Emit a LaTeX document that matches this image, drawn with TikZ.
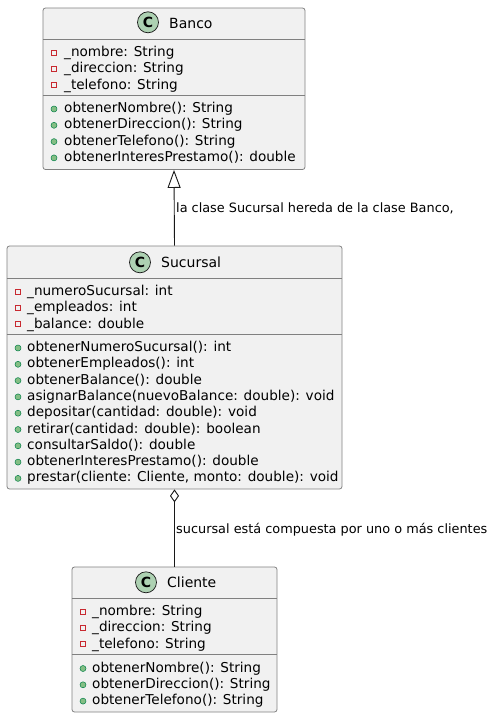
\documentclass[tikz,border=0pt]{standalone}
\usepackage{fontspec}
\setmainfont{DejaVu Sans}
\usepackage{xcolor}
\usepackage{tikz}
\usetikzlibrary{arrows.meta}

\definecolor{boxfill}{HTML}{F1F1F1}
\definecolor{boxline}{HTML}{181818}
\definecolor{spot}{HTML}{ADD1B2}
\definecolor{privred}{HTML}{C82930}
\definecolor{pubfill}{HTML}{84BE84}
\definecolor{publine}{HTML}{038048}

\tikzset{
  classbox/.style={rectangle, draw=boxline!55, fill=boxfill,
    rounded corners=2.5pt, line width=0.8pt, inner sep=0pt},
  divider/.style={draw=boxline!55, line width=0.8pt},
  spotC/.style={circle, draw=boxline, fill=spot, line width=0.7pt,
    minimum size=21pt, inner sep=0pt, font=\bfseries\fontsize{14}{14}\selectfont},
  title/.style={anchor=base west, inner sep=0pt, font=\fontsize{14}{16}\selectfont},
  member/.style={anchor=base west, inner sep=0pt, font=\fontsize{13.6}{16}\selectfont},
  priv/.style={rectangle, draw=privred, line width=0.7pt,
    minimum size=5pt, inner sep=0pt},
  pub/.style={circle, draw=publine, fill=pubfill, line width=0.5pt,
    minimum size=6pt, inner sep=0pt},
  link/.style={draw=boxline, line width=0.9pt},
  linklabel/.style={anchor=base west, inner sep=0pt, font=\fontsize{12.85}{15}\selectfont}
}

\begin{document}
\begin{tikzpicture}[x=1pt, y=-1pt]
   \useasboundingbox (0,0) rectangle (493,718);

   % Banco
   \node (banco) at (174,88.75) [classbox, minimum width=262pt, minimum height=161.5pt] {};
   \node (bancoC) at (148,22.3) [spotC] {C};
   \node (bancoN) at (169,28.3) [title] {Banco};
   \draw [divider] (banco.west |- 0,39) -- (banco.east |- 0,39);
   \draw [divider] (banco.west |- 0,95) -- (banco.east |- 0,95);
   \foreach \t [count=\i] in {\_nombre: String, \_direccion: String, \_telefono: String} {
      \node (banco-a\i) at (64,40.2+16.3*\i) [member] {\t};
      \node (banco-p\i) at (54,36.2+16.3*\i) [priv] {};
   }
   \foreach \t [count=\i] in {obtenerNombre(): String, obtenerDireccion(): String,
         obtenerTelefono(): String, obtenerInteresPrestamo(): double} {
      \node (banco-m\i) at (64,96.2+16.3*\i) [member] {\t};
      \node (banco-q\i) at (54,92.7+16.3*\i) [pub] {};
   }

   % Sucursal
   \node (sucursal) at (174.5,367.5) [classbox, minimum width=335pt, minimum height=243pt] {};
   \node (sucursalC) at (140,262.3) [spotC] {C};
   \node (sucursalN) at (161,267.3) [title] {Sucursal};
   \draw [divider] (sucursal.west |- 0,278) -- (sucursal.east |- 0,278);
   \draw [divider] (sucursal.west |- 0,334) -- (sucursal.east |- 0,334);
   \foreach \t [count=\i] in {\_numeroSucursal: int, \_empleados: int, \_balance: double} {
      \node (sucursal-a\i) at (27,279.2+16.3*\i) [member] {\t};
      \node (sucursal-p\i) at (18,275.2+16.3*\i) [priv] {};
   }
   \foreach \t [count=\i] in {obtenerNumeroSucursal(): int, obtenerEmpleados(): int,
         obtenerBalance(): double, asignarBalance(nuevoBalance: double): void,
         depositar(cantidad: double): void, retirar(cantidad: double): boolean,
         consultarSaldo(): double, obtenerInteresPrestamo(): double,
         {prestar(cliente: Cliente, monto: double): void}} {
      \node (sucursal-m\i) at (27,335.2+16.3*\i) [member] {\t};
      \node (sucursal-q\i) at (18,331.7+16.3*\i) [pub] {};
   }

   % Cliente
   \node (cliente) at (174.5,639.5) [classbox, minimum width=205pt, minimum height=145pt] {};
   \node (clienteC) at (146,582.3) [spotC] {C};
   \node (clienteN) at (167,587.3) [title] {Cliente};
   \draw [divider] (cliente.west |- 0,598) -- (cliente.east |- 0,598);
   \draw [divider] (cliente.west |- 0,654.5) -- (cliente.east |- 0,654.5);
   \foreach \t [count=\i] in {\_nombre: String, \_direccion: String, \_telefono: String} {
      \node (cliente-a\i) at (92,599.2+16.3*\i) [member] {\t};
      \node (cliente-p\i) at (83,595.2+16.3*\i) [priv] {};
   }
   \foreach \t [count=\i] in {obtenerNombre(): String, obtenerDireccion(): String,
         obtenerTelefono(): String} {
      \node (cliente-m\i) at (92,655.7+16.3*\i) [member] {\t};
      \node (cliente-q\i) at (83,652.2+16.3*\i) [pub] {};
   }

   % relations
   \draw [link, -{Triangle[open, length=18pt, width=13pt]}] (sucursal.north) -- (banco.south);
   \node (herencia) at (176,212.5) [linklabel] {la clase Sucursal hereda de la clase Banco,};
   \draw [link, {Diamond[open, length=13pt, width=9pt]}-] (sucursal.south) -- (cliente.north);
   \node (composicion) at (176,533) [linklabel] {sucursal está compuesta por uno o más clientes};
\end{tikzpicture}
\end{document}
